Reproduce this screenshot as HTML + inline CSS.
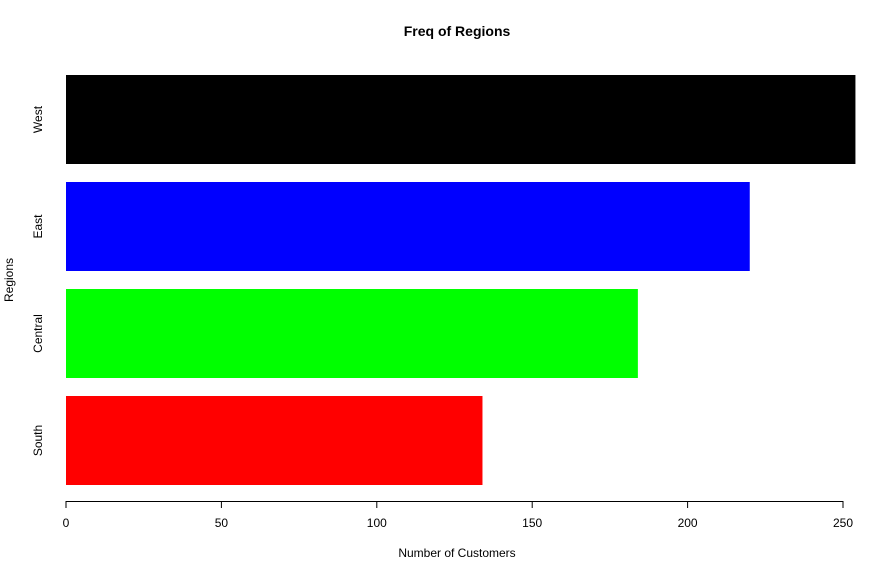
<!DOCTYPE html>
<html><head><meta charset="utf-8"><style>
body{margin:0;background:#fff;}
svg text{font-family:"Liberation Sans",Arial,sans-serif;font-size:12px;fill:#000;}
</style></head><body>
<svg width="888" height="575">
<text x="457" y="36" text-anchor="middle" style="font-weight:bold;font-size:14px">Freq of Regions</text>
<text x="457" y="557" text-anchor="middle">Number of Customers</text>
<text transform="translate(13,280) rotate(-90)" text-anchor="middle">Regions</text>
<g id="bars"></g><g id="axis"></g>
</svg>
<script>
const categories=["South","Central","East","West"];
const values=[134,184,220,254];
const colors=["#ff0000","#00ff00","#0000ff","#000000"];
const ticks=[0,50,100,150,200,250];
const x0=66, pxPer=777/250;
function xs(v){return x0+v*pxPer;}
const ns="http://www.w3.org/2000/svg";
const bars=document.getElementById('bars'),axis=document.getElementById('axis');
function bandTop(i){return 396-i*107;}
categories.forEach((c,i)=>{
 const r=document.createElementNS(ns,'rect');
 r.setAttribute('x',xs(0));r.setAttribute('y',bandTop(i));
 r.setAttribute('width',xs(values[i])-xs(0));r.setAttribute('height',89);
 r.setAttribute('fill',colors[i]);
 
 
 bars.appendChild(r);
 const t=document.createElementNS(ns,'text');
 const cy=bandTop(i)+44.5;
 t.setAttribute('transform','translate(42,'+cy+') rotate(-90)');
 t.setAttribute('text-anchor','middle');
 t.textContent=c;
 
 
 axis.appendChild(t);
});
const l=document.createElementNS(ns,'line');
l.setAttribute('x1',xs(ticks[0]));l.setAttribute('x2',xs(ticks[ticks.length-1]));
l.setAttribute('y1',501.5);l.setAttribute('y2',501.5);l.setAttribute('stroke','#000');


axis.appendChild(l);
ticks.forEach(v=>{
 const k=document.createElementNS(ns,'line');
 k.setAttribute('x1',xs(v));k.setAttribute('x2',xs(v));k.setAttribute('y1',501);k.setAttribute('y2',508);k.setAttribute('stroke','#000');
 
 
 axis.appendChild(k);
 const t=document.createElementNS(ns,'text');
 t.setAttribute('x',xs(v));t.setAttribute('y',527);t.setAttribute('text-anchor','middle');t.textContent=v;
 
 
 axis.appendChild(t);
});
</script>
</body></html>
